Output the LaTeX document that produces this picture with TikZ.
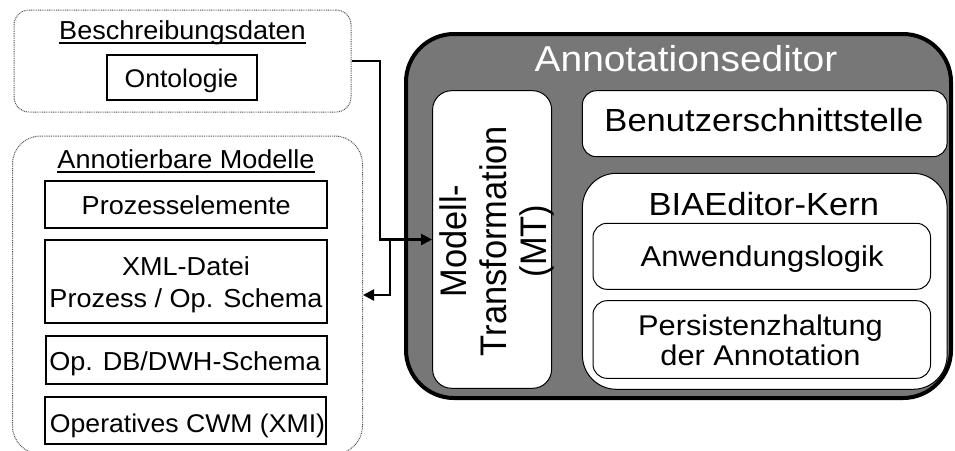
\documentclass[tikz,border=0pt]{standalone}
\usepackage{fontspec}
\setmainfont{Liberation Sans}
\newfontfamily\labelfont{Liberation Sans}[FakeStretch=1.08]
\newfontfamily\leftfont{Liberation Sans}[FakeStretch=1.04]
\newfontfamily\tallfont{Liberation Sans}[FakeStretch=0.93]
\usetikzlibrary{arrows.meta}
\definecolor{editorgray}{RGB}{119,119,119}
\definecolor{dotgray}{RGB}{80,80,80}
\newcommand\setfs[2]{\fontsize{#1}{#2}\selectfont}

\begin{document}
\begin{tikzpicture}[x=1pt,y=-1pt,
  group/.style={draw=dotgray, line width=1pt, dash pattern=on 0.9pt off 0.9pt,
    rounded corners=#1, inner sep=0pt},
  plainbox/.style={draw=black, line width=1.3pt, inner sep=0pt},
  roundbox/.style={draw=black, fill=white, line width=1pt, rounded corners=#1, inner sep=0pt},
  editorbox/.style={draw=black, fill=editorgray, line width=4pt, rounded corners=48pt, inner sep=0pt},
  txt/.style={inner sep=0pt, anchor=base, align=center, font=\labelfont\setfs{#1}{#1}},
  ltxt/.style={inner sep=0pt, anchor=base, align=center, font=\leftfont\setfs{#1}{#1}},
  conn/.style={line width=2.4pt, -{Triangle[length=11pt,width=11pt]}},
  uline/.style={line width=2pt}]
\useasboundingbox (0,0) rectangle (955,450);

% --- left column: description data ---
\node[group=15pt, minimum width=337pt, minimum height=102pt] (besch) at (182.5,61) {};
\node[ltxt=26] (beschtitle) at (182.5,39.5) {Beschreibungsdaten};
\draw[uline] ([yshift=-3pt]beschtitle.base west) -- ([yshift=-3pt]beschtitle.base east);
\node[plainbox, minimum width=150pt, minimum height=45pt] (onto) at (182,77.5) {};
\node[ltxt=25.5] (ontotext) at (181.5,87) {Ontologie};

% --- left column: annotatable models ---
\node[group=28pt, minimum width=350pt, minimum height=318pt] (annot) at (187.5,295) {};
\node[ltxt=26] (annottitle) at (186,168) {Annotierbare Modelle};
\draw[uline] ([yshift=-3.5pt]annottitle.base west) -- ([yshift=-3.5pt]annottitle.base east);

\node[plainbox, minimum width=282pt, minimum height=47pt] (proz) at (186,204.5) {};
\node[ltxt=26] (proztext) at (186.2,214) {Prozesselemente};
\node[plainbox, minimum width=282pt, minimum height=83pt] (xml) at (186,281.5) {};
% multi-line labels: the base anchor sits on the last line
\node[ltxt=26, font=\leftfont\setfs{26}{32}] (xmltext) at (186,307) {XML-Datei\\Prozess / Op. Schema};
\node[plainbox, minimum width=281pt, minimum height=48pt] (opdb) at (186.5,360) {};
\node[ltxt=26] (opdbtext) at (185,370) {Op. DB/DWH-Schema};
\node[plainbox, minimum width=281pt, minimum height=47pt] (cwm) at (185.5,420.5) {};
\node[ltxt=25.6] (cwmtext) at (187.5,432) {Operatives CWM (XMI)};

% --- annotation editor ---
\node[editorbox, minimum width=545pt, minimum height=364pt] (editor) at (678.5,216) {};
\node[txt=36, text=white] (editortitle) at (686,71.7) {Annotationseditor};

\node[roundbox=19pt, minimum width=119pt, minimum height=297.6pt] (mt) at (492.1,239.5) {};
\node[inner sep=0pt, anchor=base, align=center, rotate=90,
      font=\tallfont\setfs{37}{40}] (mttext) at (546,241) {Modell-\\Transformation\\(MT)};

\node[roundbox=14pt, minimum width=364.7pt, minimum height=66pt] (ui) at (764.75,123.7) {};
\node[txt=32] (uitext) at (763.9,131.7) {Benutzerschnittstelle};

\node[roundbox=34pt, minimum width=364.7pt, minimum height=216pt] (kern) at (764.75,281.3) {};
\node[txt=32] (kerntitle) at (763.85,215) {BIAEditor-Kern};
\node[roundbox=14pt, minimum width=337.5pt, minimum height=66pt] (logik) at (761.75,256.3) {};
\node[txt=28.7] (logiktext) at (762.1,266.7) {Anwendungslogik};
\node[roundbox=14pt, minimum width=337.5pt, minimum height=77.6pt] (pers) at (761.75,339.5) {};
\node[txt=28.5, font=\labelfont\setfs{28.5}{30}] (perstext) at (760.5,365) {Persistenzhaltung\\der Annotation};

% --- connectors ---
\coordinate (bend) at (380,239.5);
\coordinate (split) at (390,239.5);
\draw[conn] (besch.east) -| (bend) -- (mt.west);
\draw[conn] (split) |- (annot.east);
\end{tikzpicture}
\end{document}
